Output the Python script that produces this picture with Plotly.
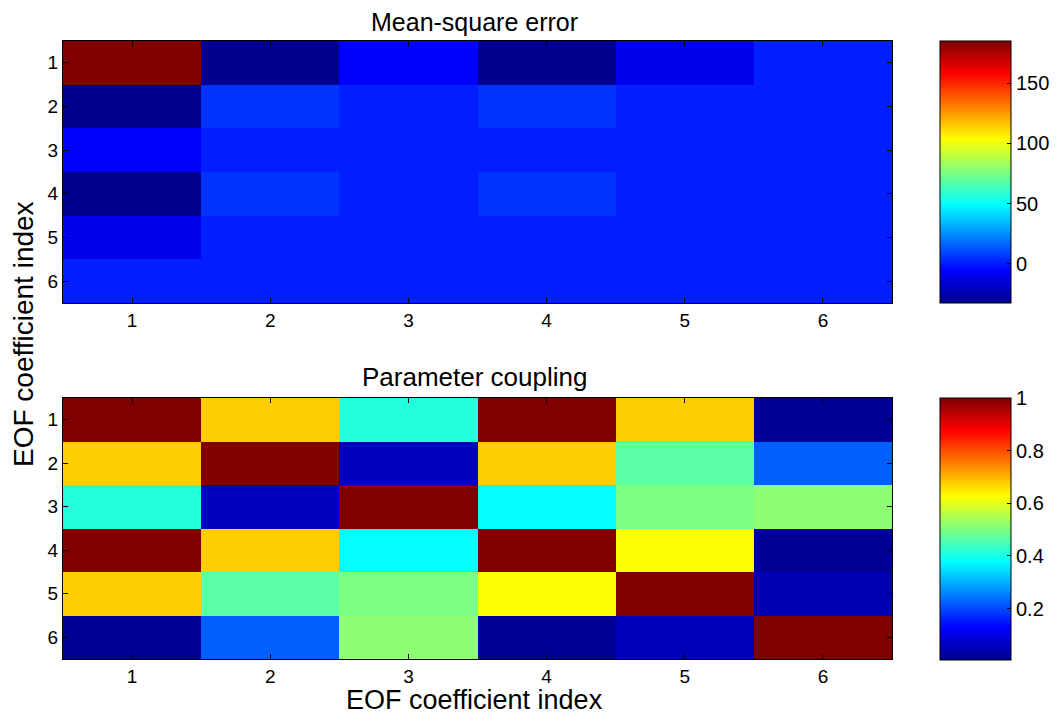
import plotly.graph_objects as go
from plotly.subplots import make_subplots

idx = [1, 2, 3, 4, 5, 6]
tick_labels = ["1", "2", "3", "4", "5", "6"]

mse = [
    [185.0, -32.5, -5.3, -32.5, -9.7, 1.1],
    [-32.5, 5.6, 1.1, 5.6, 1.1, 1.1],
    [-5.3, 1.1, 1.1, 1.1, 1.1, 1.1],
    [-32.5, 5.6, 1.1, 5.6, 1.1, 1.1],
    [-9.7, 1.1, 1.1, 1.1, 1.1, 1.1],
    [1.1, 1.1, 1.1, 1.1, 1.1, 1.1],
]

coupling = [
    [1.00, 0.675, 0.41, 1.00, 0.675, 0.01],
    [0.675, 1.00, 0.06, 0.675, 0.468, 0.222],
    [0.41, 0.06, 1.00, 0.38, 0.50, 0.515],
    [1.00, 0.675, 0.38, 1.00, 0.625, 0.01],
    [0.675, 0.468, 0.50, 0.625, 1.00, 0.045],
    [0.01, 0.222, 0.515, 0.01, 0.05, 1.00],
]

mse_ticks = [0, 50, 100, 150]
coup_ticks = [0.2, 0.4, 0.6, 0.8, 1]

jet = [
    [0.0, "rgb(0,0,143)"],
    [0.125, "rgb(0,0,255)"],
    [0.375, "rgb(0,255,255)"],
    [0.625, "rgb(255,255,0)"],
    [0.875, "rgb(255,0,0)"],
    [1.0, "rgb(128,0,0)"],
]

FONT = "Liberation Sans, Arial, sans-serif"

# page body has an 8px margin; work in reference pixels and shift
OFF = 8
W, H = 1058 - OFF, 715 - OFF
PL, PR, PT, PB = 63, 892, 41, 659  # plot-area box in reference pixels
L = PL - OFF
R = W - (PR - OFF)
T = PT - OFF
B = H - (PB - OFF)
pw = PR - PL
ph = PB - PT


def fy(px):
    return (PB - px) / ph


def fx(px):
    return (px - PL) / pw


fig = make_subplots(rows=2, cols=1, vertical_spacing=0.1)
fig.add_trace(go.Heatmap(z=mse, x=idx, y=idx, coloraxis="coloraxis"), row=1, col=1)
fig.add_trace(go.Heatmap(z=coupling, x=idx, y=idx, coloraxis="coloraxis2"), row=2, col=1)

TICK = 19
cb_common = dict(
    thickness=71, thicknessmode="pixels", lenmode="fraction",
    len=262 / ph, x=fx(940), xanchor="left",
    yanchor="top", xpad=0, ypad=0, outlinecolor="black", outlinewidth=1,
    ticks="inside", ticklen=4, tickcolor="black",
    tickfont=dict(family=FONT, size=20, color="black"),
)

fig.update_layout(
    width=W, height=H,
    margin=dict(l=L, r=R, t=T, b=B, autoexpand=False),
    paper_bgcolor="white", plot_bgcolor="white",
    font=dict(family=FONT, color="black"),
    coloraxis=dict(colorscale=jet, cmin=-32.5, cmax=185,
                   colorbar=dict(cb_common, y=1.0, tickvals=mse_ticks)),
    coloraxis2=dict(colorscale=jet, cmin=0.005, cmax=1.0,
                    colorbar=dict(cb_common, y=fy(398), tickvals=coup_ticks)),
)

axis_common = dict(
    showline=True, linecolor="black", linewidth=1, mirror="ticks",
    ticks="inside", ticklen=5, tickcolor="black",
    tickfont=dict(family=FONT, size=TICK, color="black"),
    tickvals=idx, ticktext=tick_labels, showgrid=False, zeroline=False,
)

fig.update_xaxes(axis_common, range=[0.5, 6.5])
fig.update_yaxes(axis_common, range=[6.5, 0.5])
fig.update_layout(
    xaxis=dict(domain=[0, 1]), xaxis2=dict(domain=[0, 1]),
    yaxis=dict(domain=[fy(303), 1.0]),
    yaxis2=dict(domain=[0.0, fy(398)]),
)

fig.layout.annotations = []
fig.add_annotation(text="Mean-square error", x=fx(474), xref="paper", y=fy(22), yref="paper",
                   yanchor="middle", showarrow=False, font=dict(family=FONT, size=25, color="black"))
fig.add_annotation(text="Parameter coupling", x=fx(474), xref="paper", y=fy(377), yref="paper",
                   yanchor="middle", showarrow=False, font=dict(family=FONT, size=26, color="black"))
fig.add_annotation(text="EOF coefficient index", x=fx(474), xref="paper", y=fy(700), yref="paper",
                   yanchor="middle", showarrow=False, font=dict(family=FONT, size=27, color="black"))
fig.add_annotation(text="EOF coefficient index", x=fx(23), xref="paper",
                   y=fy(334), yref="paper", xanchor="center", yanchor="middle",
                   textangle=-90, showarrow=False, font=dict(family=FONT, size=28, color="black"))

fig.write_html("out.html")
